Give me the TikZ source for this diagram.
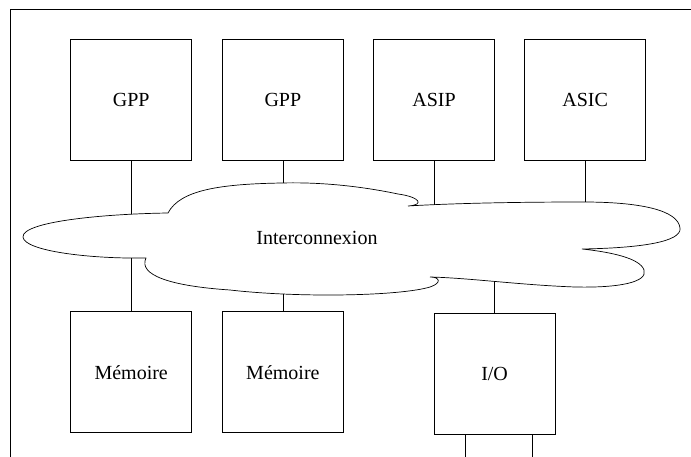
\documentclass[tikz,border=0pt]{standalone}
\usepackage{fontspec}
\setmainfont{Liberation Serif}
\usetikzlibrary{positioning}

\begin{document}
\begin{tikzpicture}[x=1pt, y=-1pt,
  unit/.style={draw, rectangle, minimum width=121pt, minimum height=121pt,
               inner sep=0pt, line width=0.7pt, font=\fontsize{20}{24}\selectfont},
  link/.style={line width=0.7pt},
  node distance=30pt
]
\useasboundingbox (0,0) rectangle (691,457);

% frame
\draw[line width=0.8pt] (691,9.5) -- (10.5,9.5) -- (10.5,457);

% processing units
\node[unit] (gpp1) at (131.2,99.7) {GPP};
\node[unit, right=30pt of gpp1] (gpp2) {GPP};
\node[unit, right=29.4pt of gpp2] (asip) {ASIP};
\node[unit, right=29.4pt of asip] (asic) {ASIC};

% memories and I/O
\node[unit, below=150.8pt of gpp1] (mem1) {Mémoire};
\node[unit, below=150.8pt of gpp2] (mem2) {Mémoire};
\node[unit, right=90pt of mem2, yshift=-1.5pt] (io) {I/O};

% interconnect cloud
\draw[link]
  (168,213) .. controls (100,214) and (22,222) .. (23,237)
  .. controls (24,251) and (90,259) .. (146,258)
  .. controls (138,275) and (170,286) .. (230,290)
  .. controls (300,298) and (400,296) .. (430,287)
  .. controls (442,283) and (440,277) .. (430,277)
  .. controls (470,278) and (520,285) .. (575,287)
  .. controls (620,288) and (648,282) .. (644,270)
  .. controls (640,258) and (610,252) .. (582,249)
  .. controls (640,248) and (682,242) .. (680,228)
  .. controls (678,210) and (640,202) .. (583,202)
  .. controls (500,202) and (440,204) .. (408,206)
  .. controls (425,205) and (420,197) .. (398,194)
  .. controls (360,186) and (320,182) .. (282,183)
  .. controls (220,184) and (180,190) .. (168,213) -- cycle;
\node[font=\fontsize{20}{24}\selectfont] (net) at (317,238) {Interconnexion};

% contact points on the cloud
\coordinate (c-gpp1) at (131,214);
\coordinate (c-gpp2) at (282,183);
\coordinate (c-asip) at (433,204.7);
\coordinate (c-asic) at (583,202);
\coordinate (c-mem1) at (131,258);
\coordinate (c-mem2) at (282,294);
\coordinate (c-io)   at (493.5,281.3);

\foreach \u in {gpp1, gpp2, asip, asic, mem1, mem2, io}
  \draw[link] (\u) -- (\u |- c-\u);

% I/O ports
\coordinate (port-a) at (465,457);
\coordinate (port-b) at (532,457);
\draw[link] (io.south -| port-a) -- (port-a);
\draw[link] (io.south -| port-b) -- (port-b);
\end{tikzpicture}
\end{document}
